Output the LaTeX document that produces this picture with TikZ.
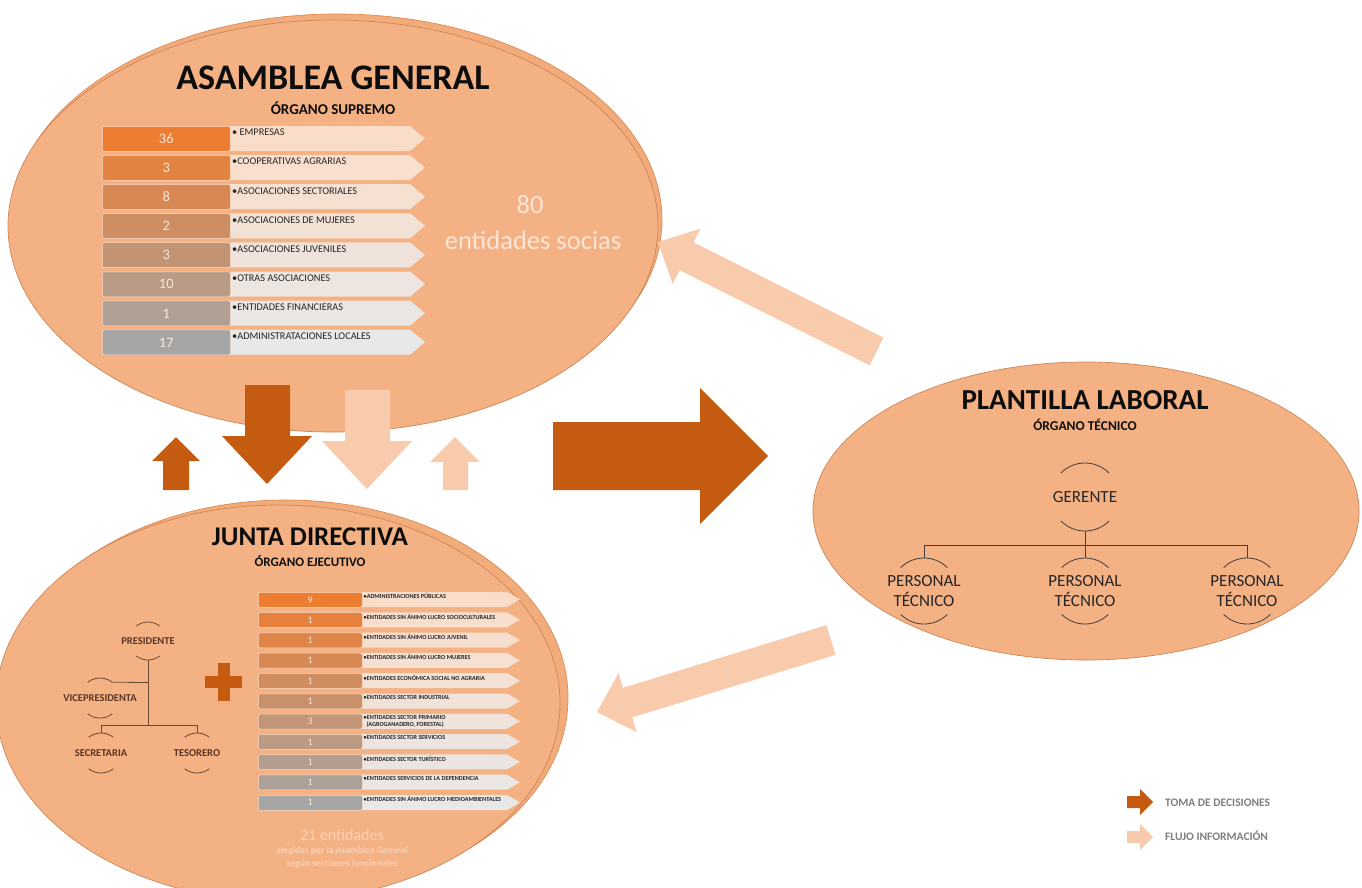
\documentclass[tikz,border=0pt]{standalone}
\usepackage{fontspec}
\setmainfont{Carlito}
\usetikzlibrary{calc,shapes.geometric}
\definecolor{ell}{HTML}{F4B183}
\definecolor{ellback}{HTML}{F2AC7B}
\definecolor{elledge}{HTML}{CF8656}
\definecolor{darkor}{HTML}{C55A11}
\definecolor{lightor}{HTML}{F8CBAD}
\definecolor{aor}{HTML}{ED7D31}
\definecolor{agr}{HTML}{A5A5A5}
\definecolor{wtxt}{HTML}{FBE5D6}
\definecolor{orgc}{HTML}{6B4A35}
\definecolor{orgt}{HTML}{5A3626}
\definecolor{legtxt}{HTML}{7F7F7F}
\definecolor{foot}{HTML}{F9D2B8}
\newcommand\orgarcs[4][orgline]{%
  \draw[#1] ($(#2)+({270-#4}:#3)$) arc[start angle={270-#4}, end angle={270+#4}, radius=#3];
  \draw[#1] ($(#2)+({90-#4}:#3)$) arc[start angle={90-#4}, end angle={90+#4}, radius=#3];}
\begin{document}
\begin{tikzpicture}[x=1pt,y=-1pt,
  body/.style={ellipse, fill=ell, draw=elledge, line width=0.7pt, inner sep=0pt},
  backbody/.style={ellipse, fill=ellback, draw=darkor!45!ell, line width=0.7pt, inner sep=0pt},
  darkarrow/.style={fill=darkor},
  lightarrow/.style={fill=lightor},
  numbox/.style={draw=white!55!ell, line width=0.5pt, rounded corners=2pt, text=wtxt, inner sep=0pt, anchor=north west},
  lbl/.style={anchor=north west, inner sep=1pt, text=black!85},
  orgline/.style={draw=orgc, line width=0.8pt},
  orgtxt/.style={font=\bfseries\fontsize{10.5}{12}\selectfont, text=orgt, inner sep=1pt},
  pline/.style={draw=black!75, line width=0.8pt},
  ptxt/.style={font=\fontsize{17}{20}\selectfont, text=black!85, align=center, inner sep=1pt},
  title/.style={font=\bfseries\fontsize{#1}{#1}\selectfont, text=black!95, inner sep=0pt},
  legend/.style={font=\bfseries\fontsize{11.5}{13}\selectfont, text=legtxt, anchor=west, inner sep=0pt}
]
\useasboundingbox (0,0) rectangle (1362,887);
\fill[white] (0,0) rectangle (1362,887);

% ---------- bodies ----------
\node[backbody, minimum width=650, minimum height=412] (asamback) at (337,220) {};
\node[body, minimum width=650, minimum height=412] (asam) at (333,226) {};
\node[backbody, minimum width=564, minimum height=396] (juntaback) at (286,698) {};
\node[body, minimum width=564, minimum height=396] (junta) at (278,703) {};
\node[body, minimum width=546, minimum height=298] (plant) at (1086,511) {};

% ---------- Asamblea General ----------
\node[title=36] (asamT) at (333,78) {ASAMBLEA GENERAL};
\node[title=15] (asamS) at (333,108) {ÓRGANO SUPREMO};
\foreach \i/\n/\lab in {0/36/{• EMPRESAS},1/3/{•COOPERATIVAS AGRARIAS},2/8/{•ASOCIACIONES SECTORIALES},3/2/{•ASOCIACIONES DE MUJERES},4/3/{•ASOCIACIONES JUVENILES},5/10/{•OTRAS ASOCIACIONES},6/1/{•ENTIDADES FINANCIERAS},7/17/{•ADMINISTRATACIONES LOCALES}}{
  \pgfmathsetmacro\yt{126+\i*29.1}
  \pgfmathtruncatemacro\p{100-\i*100/7}
  \colorlet{rowc}{aor!\p!agr}
  \fill[rowc!26!white] (230,\yt) -- (410,\yt) -- (425,\yt+12.5) -- (410,\yt+25) -- (230,\yt+25) -- cycle;
  \node[numbox, fill=rowc, minimum width=128, minimum height=25, font=\fontsize{14.5}{16}\selectfont] (an\i) at (102,\yt) {\n};
  \node[lbl, font=\fontsize{10.3}{12}\selectfont] (al\i) at (231,\yt+2) {\lab};
}
\node[text=wtxt, font=\fontsize{26.5}{30}\selectfont, inner sep=0pt] (ochenta) at (530,205) {80};
\node[text=wtxt, font=\fontsize{26.5}{30}\selectfont, inner sep=0pt] (socias) at (533,240) {entidades socias};

% ---------- Junta Directiva ----------
\node[title=27] (juntaT) at (310,537) {JUNTA DIRECTIVA};
\node[title=13] (juntaS) at (310,561) {ÓRGANO EJECUTIVO};
\foreach \i/\n/\lab in {0/9/{•ADMINISTRACIONES PÚBLICAS},1/1/{•ENTIDADES SIN ÁNIMO LUCRO SOCIOCULTURALES},2/1/{•ENTIDADES SIN ÁNIMO LUCRO JUVENIL},3/1/{•ENTIDADES SIN ÁNIMO LUCRO MUJERES},4/1/{•ENTIDADES ECONÓMICA SOCIAL NO AGRARIA},5/1/{•ENTIDADES SECTOR INDUSTRIAL},6/3/{•ENTIDADES SECTOR PRIMARIO\\\ \ (AGROGANADERO, FORESTAL)},7/1/{•ENTIDADES SECTOR SERVICIOS},8/1/{•ENTIDADES SECTOR TURÍSTICO},9/1/{•ENTIDADES SERVICIOS DE LA DEPENDENCIA},10/1/{•ENTIDADES SIN ÁNIMO LUCRO MEDIOAMBIENTALES}}{
  \pgfmathsetmacro\yt{592+\i*20.3}
  \pgfmathtruncatemacro\p{100-\i*10}
  \colorlet{rowc}{aor!\p!agr}
  \fill[rowc!26!white] (362,\yt) -- (507,\yt) -- (520,\yt+7.5) -- (507,\yt+15) -- (362,\yt+15) -- cycle;
  \node[numbox, fill=rowc, minimum width=104, minimum height=15, font=\fontsize{10}{11}\selectfont] (jn\i) at (258,\yt) {\n};
  \node[lbl, align=left, font=\bfseries\fontsize{6.2}{6.6}\selectfont, inner sep=0.5pt] (jl\i) at (363,\yt+1) {\lab};
}
\node[text=foot, font=\fontsize{16}{18}\selectfont, inner sep=0pt] (f1) at (342,835) {21 entidades};
\node[text=foot, font=\bfseries\fontsize{9.5}{11}\selectfont, inner sep=0pt] (f2) at (342,851) {elegidas por la Asamblea General};
\node[text=foot, font=\bfseries\fontsize{9.5}{11}\selectfont, inner sep=0pt] (f3) at (342,864) {según secciones funcionales};

% org chart (Junta)
\node[orgtxt] (pres) at (148,641) {PRESIDENTE};
\node[orgtxt] (vice) at (100,698) {VICEPRESIDENTA};
\node[orgtxt] (secr) at (101,753) {SECRETARIA};
\node[orgtxt] (teso) at (197,753) {TESORERO};
\orgarcs{pres}{19}{38}
\orgarcs{vice}{20}{38}
\orgarcs{secr}{20}{38}
\orgarcs{teso}{20}{38}
\draw[orgline] ($(pres)+(0,19)$) -- ($(pres)+(0,84)$);
\draw[orgline] ($(vice)+(12.3,-15.8)$) -- ($(pres)+(0,41.5)$);
\draw[orgline] ($(secr)+(0,-20)$) -- ($(secr)+(0,-28)$) -| ($(teso)+(0,-20)$);
% plus sign
\fill[darkor] (205,676) rectangle (242,688);
\fill[darkor] (217.5,663) rectangle (229.5,701);

% ---------- Plantilla laboral ----------
\node[title=29] (plantT) at (1085,400) {PLANTILLA LABORAL};
\node[title=13.5] (plantS) at (1085,425) {ÓRGANO TÉCNICO};
\node[ptxt] (ger) at (1085,497) {GERENTE};
\node[ptxt] (pt1) at (924,591) {PERSONAL\\TÉCNICO};
\node[ptxt] (pt2) at (1085,591) {PERSONAL\\TÉCNICO};
\node[ptxt] (pt3) at (1247,591) {PERSONAL\\TÉCNICO};
\orgarcs[pline]{ger}{34}{45}
\orgarcs[pline]{pt1}{33}{45}
\orgarcs[pline]{pt2}{33}{45}
\orgarcs[pline]{pt3}{33}{45}
\draw[pline] ($(ger)+(0,34)$) -- ($(ger)+(0,48)$);
\draw[pline] ($(pt1)+(0,-33)$) |- ($(pt3)+(0,-46)$) -- ($(pt3)+(0,-33)$);
\draw[pline] ($(pt2)+(0,-46)$) -- ($(pt2)+(0,-33)$);

% ---------- block arrows ----------
\fill[darkarrow] (176,437) -- (200,461) -- (189,461) -- (189,490) -- (163,490) -- (163,461) -- (152,461) -- cycle;
\fill[darkarrow] (245,385) -- (290,385) -- (290,436) -- (312,436) -- (267,484) -- (222,436) -- (245,436) -- cycle;
\fill[lightarrow] (345,390) -- (390,390) -- (390,441) -- (412,441) -- (367,489) -- (322,441) -- (345,441) -- cycle;
\fill[lightarrow] (455,437) -- (480,462) -- (468,462) -- (468,490) -- (443,490) -- (443,462) -- (430,462) -- cycle;
\fill[darkarrow] (553,422) -- (700,422) -- (700,388) -- (768,456) -- (700,524) -- (700,490) -- (553,490) -- cycle;
\fill[lightarrow] (658,242) -- (700.5,228.6) -- (693.5,242.4) -- (883.4,337.6) -- (869.6,365.4) -- (679.7,270.2) -- (672.7,284.0) -- cycle;
\fill[lightarrow] (597,712) -- (618.5,673.0) -- (623.0,687.8) -- (826.4,625.2) -- (835.6,654.8) -- (632.2,717.4) -- (636.7,732.2) -- cycle;

% ---------- legend ----------
\fill[darkarrow] (1127,796) -- (1140,796) -- (1140,789) -- (1153,802) -- (1140,815) -- (1140,808) -- (1127,808) -- cycle;
\fill[lightarrow] (1127,831) -- (1140,831) -- (1140,824) -- (1153,837) -- (1140,850) -- (1140,843) -- (1127,843) -- cycle;
\node[legend] (leg1) at (1165,803) {TOMA DE DECISIONES};
\node[legend] (leg2) at (1165,836) {FLUJO INFORMACIÓN};
\end{tikzpicture}
\end{document}
